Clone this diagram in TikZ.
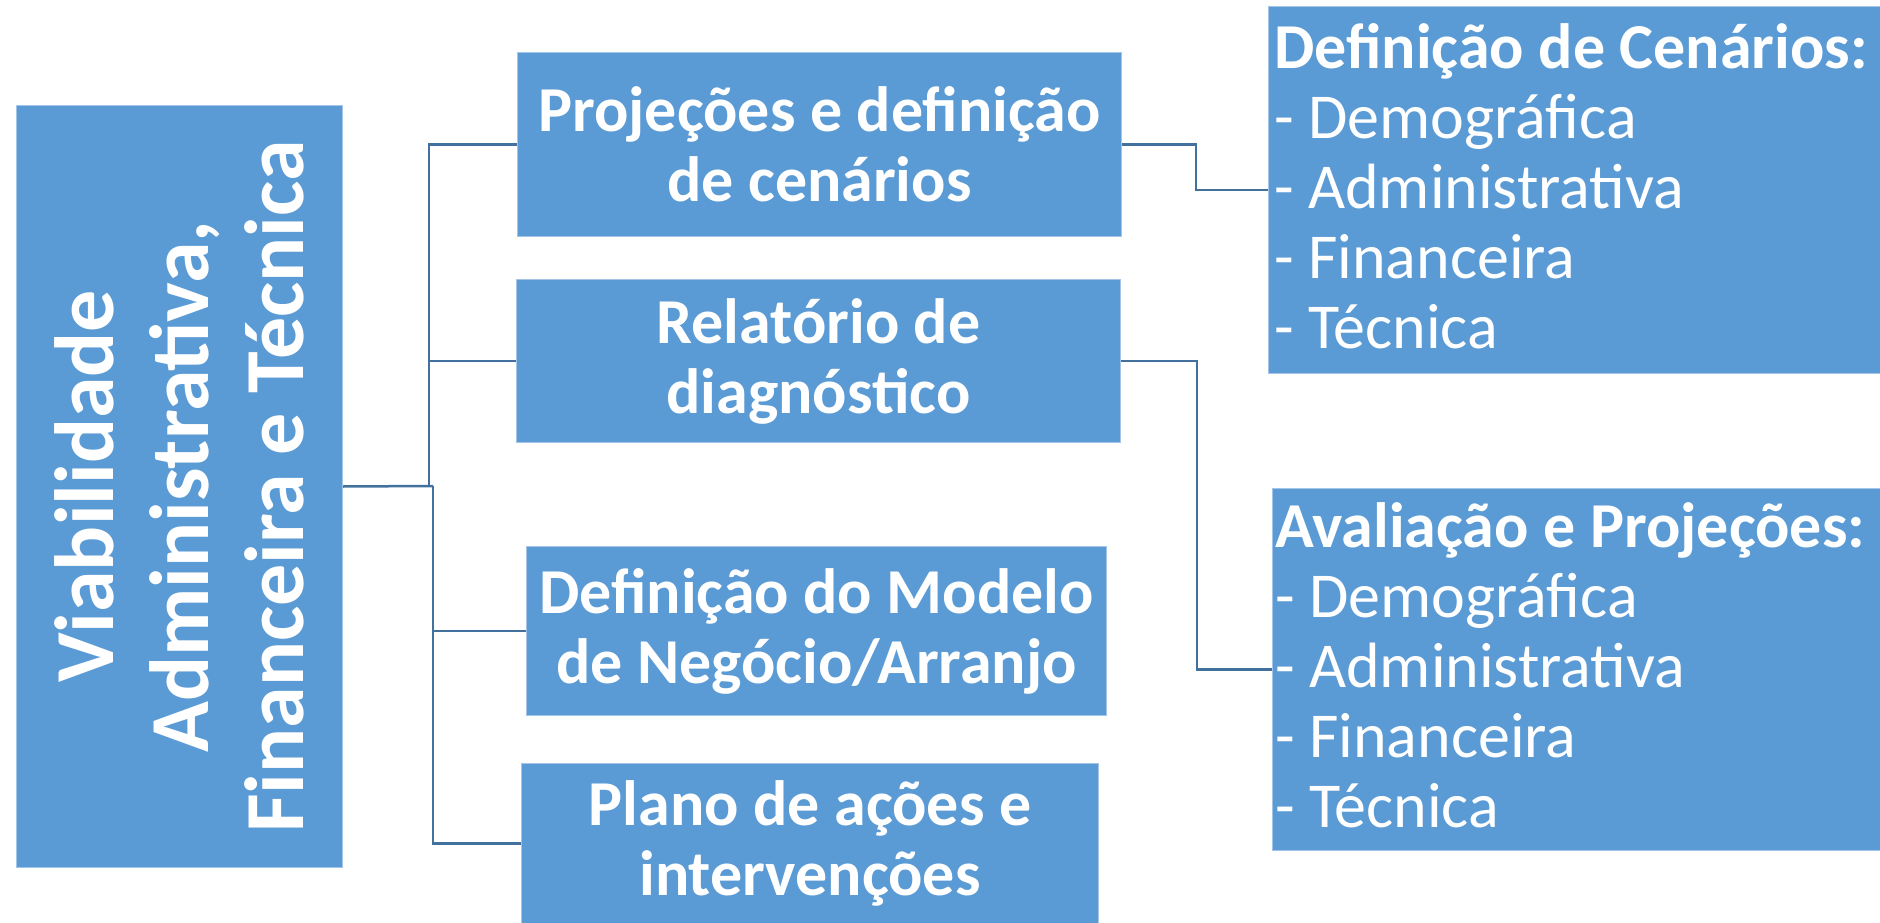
\documentclass[tikz,border=0pt]{standalone}
\usepackage{fontspec}
\setmainfont{Carlito}
\definecolor{boxblue}{HTML}{5B9BD5}
\definecolor{boxedge}{HTML}{A4C5E8}
\definecolor{linkblue}{HTML}{41719C}
\begin{document}
\begin{tikzpicture}[x=1pt,y=1pt,
  box/.style={fill=boxblue, draw=boxedge, line width=1pt, text=white, inner sep=0pt, anchor=north west},
  midtext/.style={font=\fontsize{64}{70}\selectfont\bfseries, align=center},
  listtext/.style={font=\fontsize{64}{70}\selectfont, align=left, text=white, inner sep=0pt, anchor=west},
  conn/.style={draw=linkblue, line width=2.5pt}]
\useasboundingbox (0,0) rectangle (1880,-923);
% left main box
\node[box, minimum width=326, minimum height=762] (main) at (16,-105) {};
\node[rotate=90, font=\fontsize{84}{95}\selectfont\bfseries, text=white, align=center] (maintext) at (main.center) {Viabilidade\\Administrativa,\\Financeira e Técnica};
% middle boxes
\node[box, midtext, minimum width=604, minimum height=184] (b1) at (517,-52) {Projeções e definição\\de cenários};
\node[box, midtext, minimum width=604, minimum height=163] (b2) at (516,-279) {Relatório de\\diagnóstico};
\node[box, midtext, minimum width=580, minimum height=169] (b3) at (526,-546) {Definição do Modelo\\de Negócio/Arranjo};
\node[box, midtext, minimum width=577, minimum height=160] (b4) at (521,-763) {Plano de ações e\\intervenções};
% right boxes
\node[box, minimum width=612, minimum height=367] (b5) at (1268,-6) {};
\node[listtext, xshift=6pt, yshift=4pt] (t5) at (b5.west) {\textbf{Definição de Cenários:}\\- Demográfica\\- Administrativa\\- Financeira\\- Técnica};
\node[box, minimum width=608, minimum height=362] (b6) at (1272,-488) {};
\node[listtext, xshift=3pt, yshift=4pt] (t6) at (b6.west) {\textbf{Avaliação e Projeções:}\\- Demográfica\\- Administrativa\\- Financeira\\- Técnica};
% junctions
\coordinate (jtop) at (429,-486);
\coordinate (jbot) at (433,-486);
\draw[conn] (main.east) -- (jbot);
\draw[conn] (jtop) |- (b1.west);
\draw[conn] (jtop) |- (b2.west);
\draw[conn] (jbot) |- (b3.west);
\draw[conn] (jbot) |- (b4.west);
\draw[conn] (b1.east) -- ++(74,0) |- (b5.west);
\draw[conn] (b2.east) -- ++(76,0) |- (b6.west);
\end{tikzpicture}
\end{document}
